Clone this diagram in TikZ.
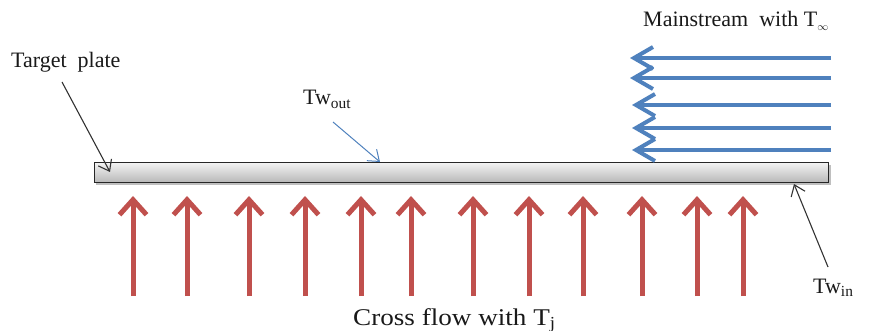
\documentclass[tikz,border=0pt]{standalone}
\usepackage{fontspec}
\setmainfont{Liberation Serif}
\usetikzlibrary{arrows.meta}
\definecolor{flowred}{HTML}{C0504D}
\definecolor{flowblue}{HTML}{4F81BD}
\begin{document}
\begin{tikzpicture}[x=1pt,y=-1pt,
  lbl/.style={font=\fontsize{22}{25}\selectfont, text=black!90, anchor=base west, inner sep=0pt},
  jetarrow/.style={draw=flowred, line width=5pt,
    -{Straight Barb[length=15pt, width=27pt, line width=5pt]}},
  mainarrow/.style={draw=flowblue, line width=4pt,
    -{Straight Barb[length=19pt, width=22pt, line width=4pt]}},
  leader/.style={draw=black!80, line width=1.1pt,
    -{Straight Barb[length=10pt, width=15pt, line width=1.1pt]}},
  leaderblue/.style={draw=flowblue, line width=1pt,
    -{Straight Barb[length=10pt, width=15pt, line width=1pt]}}]
  \useasboundingbox (0,0) rectangle (878,331);

  % target plate with a soft shadow
  \fill[black!25] (96,165) rectangle (831,185);
  \node (plate) [draw=black!85, line width=1.2pt, top color=black!5, bottom color=black!28,
    minimum width=734pt, minimum height=20pt, inner sep=0pt, anchor=north west] at (94,162) {};

  % cross flow jets from below
  \foreach \x [count=\i] in {133,187,249,305,361,411,473,529,583,642,697,743} {
    \coordinate (jb\i) at (\x,296);
    \coordinate (jt\i) at (\x,196);
    \draw[jetarrow] (jb\i) -- (jt\i);
  }

  % mainstream flow from the right
  \foreach \y/\t [count=\i] in {58/630,78/630,105/632,128/632,150/632} {
    \coordinate (ms\i) at (831,\y);
    \coordinate (me\i) at (\t,\y);
    \draw[mainarrow] (ms\i) -- (me\i);
  }

  % labels
  \node (tp) [lbl] at (11,68) {Target\ \ plate};
  \node (main) [lbl] at (643,27) {Mainstream\ \ with T$_{\scriptscriptstyle\infty}$};
  \node (twout) [lbl] at (303,105) {Tw$_{\mathrm{out}}$};
  \node (twin) [lbl] at (813,293) {Tw$_{\mathrm{in}}$};
  \node (cross) [lbl, font=\fontsize{24}{27}\selectfont] at (353,325)
    {\scalebox{1.13}[1]{Cross flow with T$_{\mathrm{j}}$}};

  % leader arrows
  \coordinate (tptip) at (110,172);
  \coordinate (outtip) at (380,162);
  \coordinate (intip) at (794,184);
  \draw[leader] (62,82) -- (tptip);
  \draw[leaderblue] (333,122) -- (outtip);
  \draw[leader] (828,267) -- (intip);
\end{tikzpicture}
\end{document}
